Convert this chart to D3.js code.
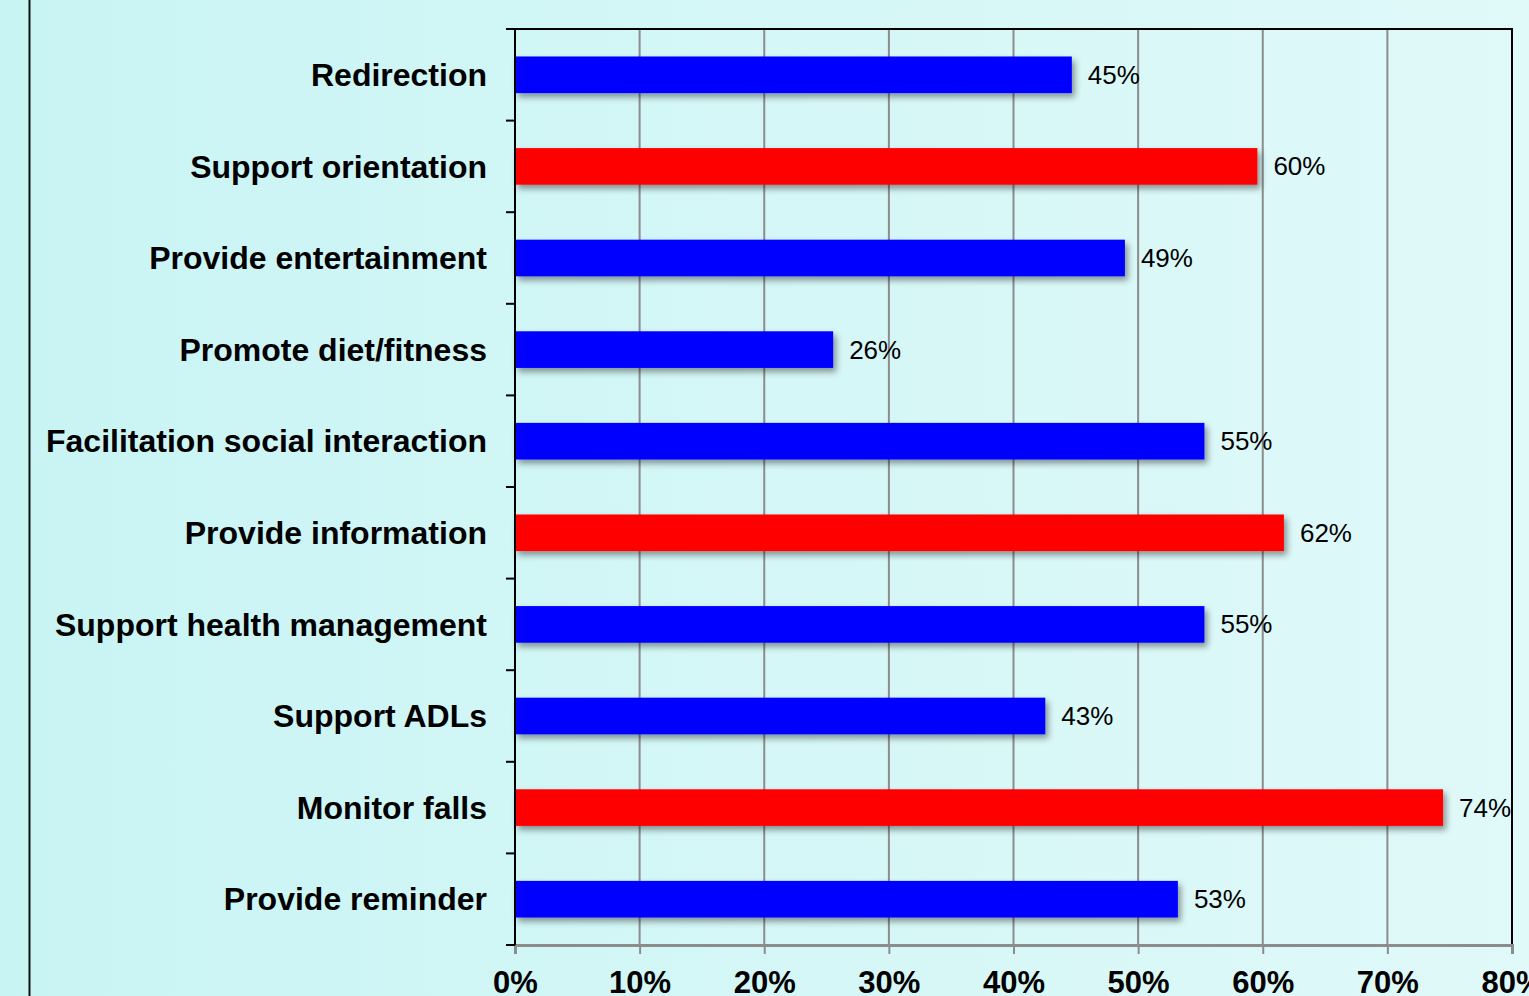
<!DOCTYPE html>
<html>
<head>
<meta charset="utf-8">
<script src="https://cdn.jsdelivr.net/npm/d3@7"></script>
<style>
  html, body { margin: 0; padding: 0; overflow: hidden; }
  body { width: 1529px; height: 996px; }
  svg { display: block; font-family: "Liberation Sans", Arial, sans-serif; }
</style>
</head>
<body>
<div id="chart"></div>
<script>
const categories = ["Redirection", "Support orientation", "Provide entertainment", "Promote diet/fitness",
    "Facilitation social interaction", "Provide information", "Support health management",
    "Support ADLs", "Monitor falls", "Provide reminder"];
const values = [0.4468, 0.5957, 0.4894, 0.2553, 0.5532, 0.6170, 0.5532, 0.4255, 0.7447, 0.5319];
const highlighted = ["Support orientation", "Provide information", "Monitor falls"];
const xTicks = [0, 0.1, 0.2, 0.3, 0.4, 0.5, 0.6, 0.7, 0.8];

const width = 1529;
const height = 996;
const marginTop = 29;
const marginRight = 17;
const marginBottom = 51;
const marginLeft = 515;

const data = categories.map((c, i) => ({name: c, value: values[i]}));

const x = d3.scaleLinear()
    .domain([0, 0.8])
    .range([marginLeft, width - marginRight]);

const y = d3.scaleBand()
    .domain(categories)
    .range([marginTop, height - marginBottom])
    .padding(0);

const svg = d3.select("#chart").append("svg")
    .attr("width", width)
    .attr("height", height)
    .attr("viewBox", [0, 0, width, height]);

const defs = svg.append("defs");
const grad = defs.append("linearGradient").attr("id", "bg");
grad.append("stop").attr("offset", "0%").attr("stop-color", "#c9f4f4");
grad.append("stop").attr("offset", "100%").attr("stop-color", "#e0f9f9");

const shadow = defs.append("filter").attr("id", "shadow")
    .attr("x", "-5%").attr("y", "-30%").attr("width", "115%").attr("height", "180%");
shadow.append("feDropShadow")
    .attr("dx", 3).attr("dy", 4)
    .attr("stdDeviation", 3)
    .attr("flood-color", "#000")
    .attr("flood-opacity", 0.4);

svg.append("rect")
    .attr("width", width).attr("height", height)
    .attr("fill", "url(#bg)");

// slide frame line on the left
svg.append("line")
    .attr("x1", 29.5).attr("x2", 29.5)
    .attr("y1", 0).attr("y2", height)
    .attr("stroke", "#111").attr("stroke-width", 2);

// grid lines
svg.append("g")
    .selectAll("line")
    .data(xTicks.slice(1, -1))
    .join("line")
    .attr("x1", d => x(d)).attr("x2", d => x(d))
    .attr("y1", marginTop).attr("y2", height - marginBottom)
    .attr("stroke", "#8c8c8c").attr("stroke-width", 2);

// plot frame: top and right edges
svg.append("path")
    .attr("d", `M${x(0)},${marginTop}H${x(0.8)}V${height - marginBottom}`)
    .attr("fill", "none")
    .attr("stroke", "#000").attr("stroke-width", 2);

// bottom axis
svg.append("g")
    .attr("transform", `translate(0,${height - marginBottom})`)
    .call(d3.axisBottom(x).tickValues(xTicks).tickFormat(d3.format(".0%")).tickSize(9).tickPadding(17))
    .call(g => g.select(".domain").attr("stroke", "#8c8c8c").attr("stroke-width", 3))
    .call(g => g.selectAll(".tick line").attr("stroke", "#8c8c8c").attr("stroke-width", 2))
    .call(g => g.selectAll(".tick text")
        .attr("fill", "#000")
        .attr("font-size", 31)
        .attr("font-weight", "bold")
        .attr("font-family", "'Liberation Sans', Arial, sans-serif"));

// bars
const barH = y.bandwidth() * 0.4;
svg.append("g")
    .selectAll("rect")
    .data(data)
    .join("rect")
    .attr("x", x(0))
    .attr("y", d => y(d.name) + (y.bandwidth() - barH) / 2)
    .attr("width", d => x(d.value) - x(0))
    .attr("height", barH)
    .attr("fill", d => highlighted.includes(d.name) ? "#ff0000" : "#0000ff")
    .attr("filter", "url(#shadow)");

// value labels
svg.append("g")
    .selectAll("text")
    .data(data)
    .join("text")
    .attr("x", d => x(d.value) + 16)
    .attr("y", d => y(d.name) + y.bandwidth() / 2 + 9)
    .attr("font-size", 26)
    .attr("fill", "#000")
    .text(d => d3.format(".0%")(d.value));

// left axis with ticks at band boundaries
const leftAxis = svg.append("g")
    .attr("transform", `translate(${marginLeft},0)`)
    .call(d3.axisLeft(y).tickSize(0).tickPadding(28))
    .call(g => g.select(".domain").remove())
    .call(g => g.selectAll(".tick text")
        .attr("fill", "#000")
        .attr("font-size", 32)
        .attr("font-weight", "bold")
        .attr("dy", "0.35em")
        .attr("font-family", "'Liberation Sans', Arial, sans-serif"));

const bounds = categories.map(c => y(c)).concat([height - marginBottom]);
leftAxis.append("g")
    .selectAll("line")
    .data(bounds)
    .join("line")
    .attr("x1", -9).attr("x2", 0)
    .attr("y1", d => d).attr("y2", d => d)
    .attr("stroke", "#000").attr("stroke-width", 2);
leftAxis.append("line")
    .attr("x1", 0).attr("x2", 0)
    .attr("y1", marginTop).attr("y2", height - marginBottom)
    .attr("stroke", "#000").attr("stroke-width", 2);
</script>
</body>
</html>
